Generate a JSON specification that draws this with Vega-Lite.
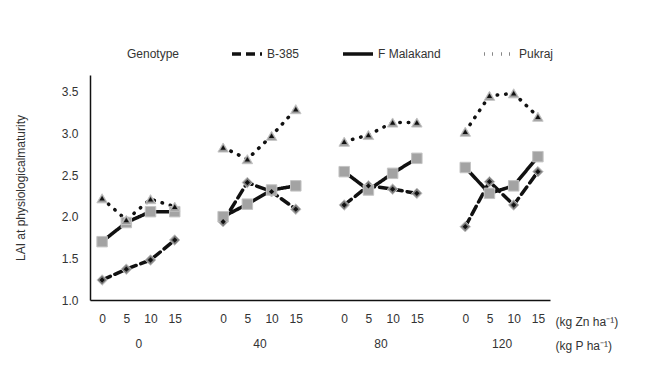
{
  "$schema": "https://vega.github.io/schema/vega-lite/v6.json",
  "autosize": {"type": "none"},
  "padding": {"left": 90, "top": 75, "right": 97, "bottom": 74},
  "width": 460,
  "height": 225,
  "background": "white",
  "config": {
    "font": "Liberation Sans",
    "view": {"stroke": null},
    "axis": {"labelFont": "Liberation Sans", "titleFont": "Liberation Sans", "labelColor": "#333", "titleColor": "#333", "labelFontSize": 12, "titleFontSize": 12, "titleFontWeight": "normal", "grid": false, "ticks": false},
    "legend": {"labelFont": "Liberation Sans", "titleFont": "Liberation Sans", "labelColor": "#333", "titleColor": "#333", "labelFontSize": 12, "titleFontSize": 12, "titleFontWeight": "normal"}
  },
  "data": {
    "values": [
      {"P": "0", "Zn": 0, "Genotype": "B-385", "LAI": 1.24},
      {"P": "0", "Zn": 5, "Genotype": "B-385", "LAI": 1.37},
      {"P": "0", "Zn": 10, "Genotype": "B-385", "LAI": 1.48},
      {"P": "0", "Zn": 15, "Genotype": "B-385", "LAI": 1.72},
      {"P": "40", "Zn": 0, "Genotype": "B-385", "LAI": 1.94},
      {"P": "40", "Zn": 5, "Genotype": "B-385", "LAI": 2.41},
      {"P": "40", "Zn": 10, "Genotype": "B-385", "LAI": 2.3},
      {"P": "40", "Zn": 15, "Genotype": "B-385", "LAI": 2.09},
      {"P": "80", "Zn": 0, "Genotype": "B-385", "LAI": 2.14},
      {"P": "80", "Zn": 5, "Genotype": "B-385", "LAI": 2.37},
      {"P": "80", "Zn": 10, "Genotype": "B-385", "LAI": 2.33},
      {"P": "80", "Zn": 15, "Genotype": "B-385", "LAI": 2.28},
      {"P": "120", "Zn": 0, "Genotype": "B-385", "LAI": 1.88},
      {"P": "120", "Zn": 5, "Genotype": "B-385", "LAI": 2.42},
      {"P": "120", "Zn": 10, "Genotype": "B-385", "LAI": 2.14},
      {"P": "120", "Zn": 15, "Genotype": "B-385", "LAI": 2.54},
      {"P": "0", "Zn": 0, "Genotype": "F Malakand", "LAI": 1.7},
      {"P": "0", "Zn": 5, "Genotype": "F Malakand", "LAI": 1.93},
      {"P": "0", "Zn": 10, "Genotype": "F Malakand", "LAI": 2.06},
      {"P": "0", "Zn": 15, "Genotype": "F Malakand", "LAI": 2.06},
      {"P": "40", "Zn": 0, "Genotype": "F Malakand", "LAI": 2.0},
      {"P": "40", "Zn": 5, "Genotype": "F Malakand", "LAI": 2.15},
      {"P": "40", "Zn": 10, "Genotype": "F Malakand", "LAI": 2.32},
      {"P": "40", "Zn": 15, "Genotype": "F Malakand", "LAI": 2.37},
      {"P": "80", "Zn": 0, "Genotype": "F Malakand", "LAI": 2.54},
      {"P": "80", "Zn": 5, "Genotype": "F Malakand", "LAI": 2.32},
      {"P": "80", "Zn": 10, "Genotype": "F Malakand", "LAI": 2.52},
      {"P": "80", "Zn": 15, "Genotype": "F Malakand", "LAI": 2.7},
      {"P": "120", "Zn": 0, "Genotype": "F Malakand", "LAI": 2.59},
      {"P": "120", "Zn": 5, "Genotype": "F Malakand", "LAI": 2.28},
      {"P": "120", "Zn": 10, "Genotype": "F Malakand", "LAI": 2.37},
      {"P": "120", "Zn": 15, "Genotype": "F Malakand", "LAI": 2.72},
      {"P": "0", "Zn": 0, "Genotype": "Pukraj", "LAI": 2.22},
      {"P": "0", "Zn": 5, "Genotype": "Pukraj", "LAI": 1.96},
      {"P": "0", "Zn": 10, "Genotype": "Pukraj", "LAI": 2.21},
      {"P": "0", "Zn": 15, "Genotype": "Pukraj", "LAI": 2.12},
      {"P": "40", "Zn": 0, "Genotype": "Pukraj", "LAI": 2.83},
      {"P": "40", "Zn": 5, "Genotype": "Pukraj", "LAI": 2.69},
      {"P": "40", "Zn": 10, "Genotype": "Pukraj", "LAI": 2.97},
      {"P": "40", "Zn": 15, "Genotype": "Pukraj", "LAI": 3.29},
      {"P": "80", "Zn": 0, "Genotype": "Pukraj", "LAI": 2.9},
      {"P": "80", "Zn": 5, "Genotype": "Pukraj", "LAI": 2.98},
      {"P": "80", "Zn": 10, "Genotype": "Pukraj", "LAI": 3.13},
      {"P": "80", "Zn": 15, "Genotype": "Pukraj", "LAI": 3.13},
      {"P": "120", "Zn": 0, "Genotype": "Pukraj", "LAI": 3.02},
      {"P": "120", "Zn": 5, "Genotype": "Pukraj", "LAI": 3.45},
      {"P": "120", "Zn": 10, "Genotype": "Pukraj", "LAI": 3.48},
      {"P": "120", "Zn": 15, "Genotype": "Pukraj", "LAI": 3.2}
    ]
  },
  "resolve": {"scale": {"x": "independent"}, "axis": {"x": "independent"}},
  "layer": [
    {
      "transform": [{"calculate": "datum.P + '|' + datum.Zn", "as": "key"}],
      "encoding": {
        "x": {
          "field": "key", "type": "nominal",
          "scale": {"type": "point", "padding": 0.5, "domain": ["0|0","0|5","0|10","0|15","g1","40|0","40|5","40|10","40|15","g2","80|0","80|5","80|10","80|15","g3","120|0","120|5","120|10","120|15"]},
          "axis": {"orient": "bottom", "labelAngle": 0, "labelPadding": 13, "domainColor": "#111", "domainWidth": 1.5,
                   "labelExpr": "indexof(datum.value, '|') > 0 ? split(datum.value, '|')[1] : ''",
                   "title": "(kg Zn ha⁻¹)", "titleX": 465, "titleY": 21, "titleAlign": "left", "titleBaseline": "middle", "titleAnchor": null},
          "sort": null
        },
        "y": {
          "field": "LAI", "type": "quantitative",
          "scale": {"domain": [1, 3.7], "nice": false, "zero": false},
          "axis": {"values": [1, 1.5, 2, 2.5, 3, 3.5], "format": ".1f", "labelPadding": 12, "domainColor": "#111", "domainWidth": 1.5,
                   "title": "LAI at physiologicalmaturity", "titlePadding": 34}
        }
      },
      "layer": [
        {
          "transform": [{"calculate": "datum.Genotype", "as": "Series"}],
          "mark": {"type": "line", "strokeWidth": 3.5, "color": "#111", "strokeCap": "round"},
          "encoding": {
            "detail": {"field": "P"},
            "order": {"field": "Zn", "type": "quantitative"},
            "strokeDash": {
              "field": "Series", "type": "nominal",
              "scale": {"domain": ["B-385", "F Malakand", "Pukraj"], "range": [[9, 5], [1, 0], [0.5, 8]]},
              "legend": {"orient": "none", "legendX": 37, "legendY": -38, "direction": "horizontal", "title": "Genotype", "titleOrient": "left", "titlePadding": 50, "titleBaseline": "top",
                         "symbolType": "stroke", "symbolSize": 900, "symbolStrokeWidth": 3.5, "symbolStrokeColor": "#111", "labelOffset": 3, "columnPadding": 36}
            }
          }
        },
        {
          "mark": {"type": "point", "filled": true, "opacity": 1, "stroke": "#c4c4c4", "strokeWidth": 1},
          "encoding": {
            "shape": {"field": "Genotype", "type": "nominal", "scale": {"range": ["diamond", "square", "triangle-up"]}, "legend": null},
            "fill": {"field": "Genotype", "type": "nominal", "scale": {"range": ["#808080", "#a3a3a3", "#999999"]}, "legend": null},
            "size": {"field": "Genotype", "type": "nominal", "scale": {"range": [110, 110, 120]}, "legend": null}
          }
        },
        {
          "transform": [{"filter": "datum.Genotype != 'F Malakand'"}],
          "mark": {"type": "point", "filled": true, "opacity": 1, "color": "#111"},
          "encoding": {
            "shape": {"field": "Genotype", "type": "nominal", "legend": null},
            "size": {"value": 28}
          }
        }
      ]
    },
    {
      "mark": {"type": "point", "opacity": 0},
      "encoding": {
        "x": {
          "field": "P", "type": "nominal",
          "scale": {"type": "point", "padding": 0.4, "domain": ["0", "40", "80", "120"]},
          "axis": {"orient": "bottom", "labelAngle": 0, "labelPadding": 38, "domain": false,
                   "title": "(kg P ha⁻¹)", "titleX": 465, "titleY": 45, "titleAlign": "left", "titleBaseline": "middle", "titleAnchor": null}
        }
      }
    }
  ]
}
